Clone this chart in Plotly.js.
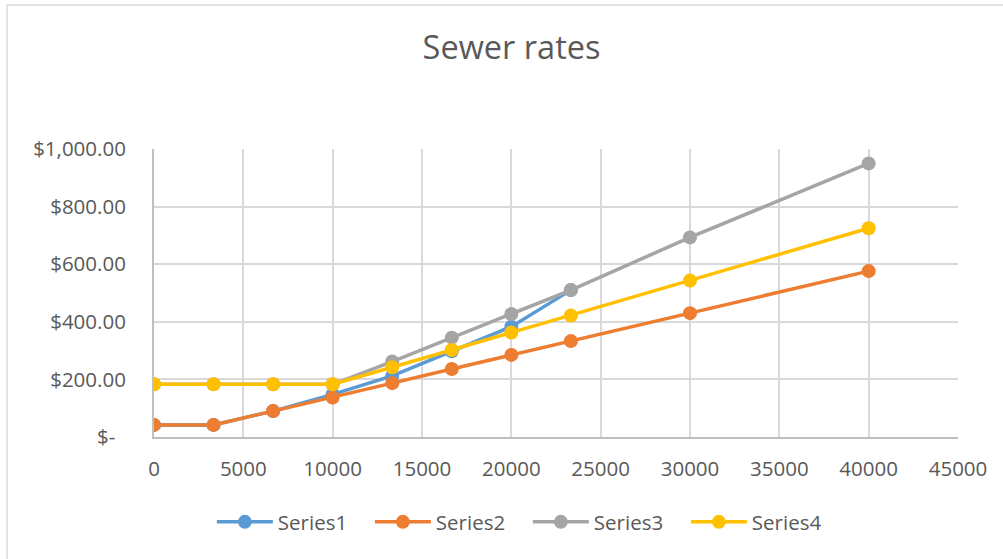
<!DOCTYPE html>
<html>
<head>
<meta charset="utf-8">
<script src="https://cdn.plot.ly/plotly-3.0.1.min.js"></script>
<style>
html,body{margin:0;padding:0;background:#fff;}
#chart{width:1003px;height:559px;}
</style>
</head>
<body>
<div id="chart"></div>
<script>
// Data
const xValues = [0, 3333, 6667, 10000, 13333, 16667, 20000, 23333, 30000, 40000];
const series1 = [42, 42, 90, 148, 212, 298, 383, 510];
const series2 = [42, 42, 90, 137, 187, 236, 285, 333, 430, 576];
const series3 = [183, 183, 183, 183, 262, 345, 427, 510, 693, 950];
const series4 = [183, 183, 183, 183, 242, 302, 363, 422, 543, 725];
const seriesNames = ["Series1", "Series2", "Series3", "Series4"];
const yTickVals = [0, 200, 400, 600, 800, 1000];
const yTickText = ["$-\u00a0\u00a0", "$200.00", "$400.00", "$600.00", "$800.00", "$1,000.00"];
const xTickVals = [0, 5000, 10000, 15000, 20000, 25000, 30000, 35000, 40000, 45000];
const chartTitle = "Sewer rates";

const colors = ["#5B9BD5", "#ED7D31", "#A5A5A5", "#FFC000"];
const ys = [series1, series2, series3, series4];

const traces = ys.map((y, i) => ({
  type: "scatter",
  mode: "lines+markers",
  name: seriesNames[i],
  x: xValues.slice(0, y.length),
  y: y,
  line: {color: colors[i], width: 3.5},
  marker: {color: colors[i], size: 14}
}));

const textColor = "#595959";
const font = "Open Sans, Liberation Sans, sans-serif";

const layout = {
  width: 1003,
  height: 559,
  margin: {l: 154, r: 45, t: 149, b: 122},
  paper_bgcolor: "#ffffff",
  plot_bgcolor: "#ffffff",
  font: {family: font, color: textColor, size: 20.5},
  title: {
    text: chartTitle,
    font: {family: font, size: 32.5, color: textColor},
    x: 0.51, xref: "container", xanchor: "center",
    y: 1 - 48 / 559, yref: "container", yanchor: "middle"
  },
  xaxis: {
    range: [0, 45000],
    tickvals: xTickVals,
    ticktext: xTickVals.map(String),
    showgrid: true,
    gridcolor: "#d9d9d9",
    gridwidth: 2,
    showline: true,
    linecolor: "#bfbfbf",
    linewidth: 2,
    zeroline: false,
    ticks: "",
    ticklabelstandoff: 12,
    tickfont: {family: font, size: 20.5, color: textColor},
    fixedrange: true
  },
  yaxis: {
    range: [0, 1000],
    tickvals: yTickVals,
    ticktext: yTickText,
    showgrid: true,
    gridcolor: "#d9d9d9",
    gridwidth: 2,
    showline: true,
    linecolor: "#bfbfbf",
    linewidth: 2,
    zeroline: false,
    ticks: "",
    ticklabelstandoff: 22,
    tickfont: {family: font, size: 20.5, color: textColor},
    fixedrange: true
  },
  showlegend: true,
  legend: {
    orientation: "h",
    x: 0.465, xanchor: "center",
    y: (437 - 522) / 288, yanchor: "middle",
    font: {family: font, size: 20.5, color: textColor},
    itemwidth: 56,
    entrywidth: 87,
    entrywidthmode: "pixels",
    bgcolor: "rgba(0,0,0,0)"
  },
  shapes: [
    {type: "line", xref: "paper", yref: "paper", x0: (7 - 154) / 804, x1: (1010 - 154) / 804, y0: (437 - 5) / 288, y1: (437 - 5) / 288, line: {color: "#d9d9d9", width: 1.5}},
    {type: "line", xref: "paper", yref: "paper", x0: (7 - 154) / 804, x1: (7 - 154) / 804, y0: (437 - 5) / 288, y1: (437 - 570) / 288, line: {color: "#d9d9d9", width: 1.5}}
  ]
};

Plotly.newPlot("chart", traces, layout, {displayModeBar: false, staticPlot: true});
</script>
</body>
</html>
